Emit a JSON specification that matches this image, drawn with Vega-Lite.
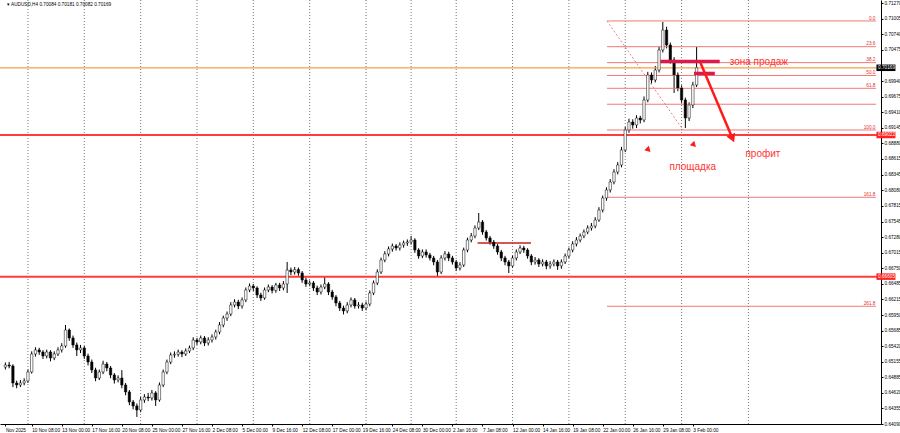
{
"$schema":"https://vega.github.io/schema/vega-lite/v6.json",
"width":881,"height":424,
"autosize":{"type":"none"},
"padding":{"left":0,"top":0,"right":19,"bottom":9},
"background":"#ffffff",
"config":{"view":{"stroke":null},"font":"Liberation Sans","axis":{"labelOverlap":false,"labelBound":false,"labelFlush":false,"grid":false,"labelFontSize":4.7,"labelPadding":1,"tickSize":2,"domainColor":"#000000","tickColor":"#000000","labelColor":"#000000"}},
"resolve":{"axis":{"x":"independent","y":"independent"}},
"datasets":{
"candles":[
{"t":0,"o":0.6506,"h":0.6514,"l":0.6502,"c":0.65097},
{"t":2,"o":0.65097,"h":0.6515,"l":0.6504,"c":0.6508},
{"t":4,"o":0.6508,"h":0.6511,"l":0.6472,"c":0.6479},
{"t":6,"o":0.6479,"h":0.6483,"l":0.647,"c":0.64756},
{"t":8,"o":0.64756,"h":0.6484,"l":0.6472,"c":0.6479},
{"t":10,"o":0.6479,"h":0.6487,"l":0.6475,"c":0.64824},
{"t":12,"o":0.64824,"h":0.6502,"l":0.6479,"c":0.64978},
{"t":14,"o":0.64978,"h":0.6533,"l":0.6495,"c":0.65285},
{"t":16,"o":0.65285,"h":0.654,"l":0.6524,"c":0.65354},
{"t":18,"o":0.65354,"h":0.6539,"l":0.6527,"c":0.65319},
{"t":20,"o":0.65319,"h":0.6535,"l":0.652,"c":0.65251},
{"t":22,"o":0.65251,"h":0.6536,"l":0.6521,"c":0.65319},
{"t":24,"o":0.65319,"h":0.6535,"l":0.6516,"c":0.65217},
{"t":26,"o":0.65217,"h":0.6533,"l":0.6518,"c":0.65285},
{"t":28,"o":0.65285,"h":0.654,"l":0.6525,"c":0.65354},
{"t":30,"o":0.65354,"h":0.6547,"l":0.6531,"c":0.65422},
{"t":32,"o":0.65422,"h":0.6578,"l":0.6539,"c":0.65695},
{"t":34,"o":0.65695,"h":0.6572,"l":0.6551,"c":0.65558},
{"t":36,"o":0.65558,"h":0.656,"l":0.6539,"c":0.65439},
{"t":38,"o":0.65439,"h":0.6548,"l":0.6525,"c":0.65354},
{"t":40,"o":0.65354,"h":0.6544,"l":0.653,"c":0.65388},
{"t":42,"o":0.65388,"h":0.6542,"l":0.652,"c":0.65251},
{"t":44,"o":0.65251,"h":0.6529,"l":0.6509,"c":0.65148},
{"t":46,"o":0.65148,"h":0.6519,"l":0.6496,"c":0.65012},
{"t":48,"o":0.65012,"h":0.6505,"l":0.6482,"c":0.64875},
{"t":50,"o":0.64875,"h":0.6502,"l":0.6484,"c":0.64978},
{"t":52,"o":0.64978,"h":0.6517,"l":0.6494,"c":0.65114},
{"t":54,"o":0.65114,"h":0.6515,"l":0.6499,"c":0.65046},
{"t":56,"o":0.65046,"h":0.6508,"l":0.6487,"c":0.64927},
{"t":58,"o":0.64927,"h":0.6496,"l":0.6478,"c":0.64841},
{"t":60,"o":0.64841,"h":0.6492,"l":0.648,"c":0.64875},
{"t":62,"o":0.64875,"h":0.6501,"l":0.647,"c":0.64756},
{"t":64,"o":0.64756,"h":0.6479,"l":0.6458,"c":0.64637},
{"t":66,"o":0.64637,"h":0.6467,"l":0.6441,"c":0.64466},
{"t":68,"o":0.64466,"h":0.645,"l":0.6434,"c":0.64398},
{"t":70,"o":0.64398,"h":0.6444,"l":0.6421,"c":0.64329},
{"t":72,"o":0.64329,"h":0.6455,"l":0.6429,"c":0.645},
{"t":74,"o":0.645,"h":0.646,"l":0.6445,"c":0.64551},
{"t":76,"o":0.64551,"h":0.6462,"l":0.6448,"c":0.64534},
{"t":78,"o":0.64534,"h":0.6467,"l":0.6449,"c":0.6462},
{"t":80,"o":0.6462,"h":0.6465,"l":0.64398,"c":0.645},
{"t":82,"o":0.645,"h":0.648,"l":0.6447,"c":0.64756},
{"t":84,"o":0.64756,"h":0.6502,"l":0.6472,"c":0.64978},
{"t":86,"o":0.64978,"h":0.6519,"l":0.6494,"c":0.65148},
{"t":88,"o":0.65148,"h":0.6531,"l":0.6511,"c":0.65268},
{"t":90,"o":0.65268,"h":0.6533,"l":0.6522,"c":0.6528},
{"t":92,"o":0.6528,"h":0.6536,"l":0.6524,"c":0.65319},
{"t":94,"o":0.65319,"h":0.6535,"l":0.6523,"c":0.65285},
{"t":96,"o":0.65285,"h":0.6538,"l":0.6525,"c":0.65336},
{"t":98,"o":0.65336,"h":0.6543,"l":0.653,"c":0.65388},
{"t":100,"o":0.65388,"h":0.6557,"l":0.6535,"c":0.65524},
{"t":102,"o":0.65524,"h":0.6556,"l":0.6544,"c":0.6549},
{"t":104,"o":0.6549,"h":0.656,"l":0.6545,"c":0.65558},
{"t":106,"o":0.65558,"h":0.6559,"l":0.6542,"c":0.65473},
{"t":108,"o":0.65473,"h":0.6557,"l":0.6543,"c":0.65524},
{"t":110,"o":0.65524,"h":0.6562,"l":0.6548,"c":0.65575},
{"t":112,"o":0.65575,"h":0.657,"l":0.6553,"c":0.6566},
{"t":114,"o":0.6566,"h":0.6583,"l":0.6562,"c":0.6578},
{"t":116,"o":0.6578,"h":0.6594,"l":0.6574,"c":0.65899},
{"t":118,"o":0.65899,"h":0.6601,"l":0.6585,"c":0.65967},
{"t":120,"o":0.65967,"h":0.6617,"l":0.6593,"c":0.66121},
{"t":122,"o":0.66121,"h":0.6622,"l":0.6608,"c":0.66172},
{"t":124,"o":0.66172,"h":0.6621,"l":0.6605,"c":0.66104},
{"t":126,"o":0.66104,"h":0.6625,"l":0.6606,"c":0.66207},
{"t":128,"o":0.66207,"h":0.6642,"l":0.6617,"c":0.66377},
{"t":130,"o":0.66377,"h":0.6649,"l":0.6634,"c":0.66445},
{"t":132,"o":0.66445,"h":0.6648,"l":0.6636,"c":0.66411},
{"t":134,"o":0.66411,"h":0.6644,"l":0.6624,"c":0.66292},
{"t":136,"o":0.66292,"h":0.6633,"l":0.6619,"c":0.66241},
{"t":138,"o":0.66241,"h":0.6642,"l":0.6621,"c":0.66377},
{"t":140,"o":0.66377,"h":0.6647,"l":0.6634,"c":0.66428},
{"t":142,"o":0.66428,"h":0.6646,"l":0.6632,"c":0.6637},
{"t":144,"o":0.6637,"h":0.665,"l":0.6633,"c":0.66462},
{"t":146,"o":0.66462,"h":0.665,"l":0.6636,"c":0.66411},
{"t":148,"o":0.66411,"h":0.6653,"l":0.6637,"c":0.6648},
{"t":150,"o":0.6648,"h":0.66855,"l":0.66326,"c":0.66718},
{"t":152,"o":0.66718,"h":0.6676,"l":0.6663,"c":0.66684},
{"t":154,"o":0.66684,"h":0.6677,"l":0.6664,"c":0.66725},
{"t":156,"o":0.66725,"h":0.6676,"l":0.6662,"c":0.66667},
{"t":158,"o":0.66667,"h":0.667,"l":0.665,"c":0.66548},
{"t":160,"o":0.66548,"h":0.6659,"l":0.6643,"c":0.6648},
{"t":162,"o":0.6648,"h":0.6654,"l":0.6644,"c":0.66497},
{"t":164,"o":0.66497,"h":0.6653,"l":0.6636,"c":0.66411},
{"t":166,"o":0.66411,"h":0.6645,"l":0.6629,"c":0.66343},
{"t":168,"o":0.66343,"h":0.6647,"l":0.663,"c":0.66428},
{"t":170,"o":0.66428,"h":0.666,"l":0.6639,"c":0.6648},
{"t":172,"o":0.6648,"h":0.6651,"l":0.6629,"c":0.66343},
{"t":174,"o":0.66343,"h":0.6638,"l":0.6621,"c":0.66258},
{"t":176,"o":0.66258,"h":0.6629,"l":0.661,"c":0.66155},
{"t":178,"o":0.66155,"h":0.6619,"l":0.6602,"c":0.6607},
{"t":180,"o":0.6607,"h":0.6611,"l":0.6596,"c":0.66019},
{"t":182,"o":0.66019,"h":0.6617,"l":0.6598,"c":0.66121},
{"t":184,"o":0.66121,"h":0.6625,"l":0.6608,"c":0.66207},
{"t":186,"o":0.66207,"h":0.6624,"l":0.6606,"c":0.66104},
{"t":188,"o":0.66104,"h":0.6617,"l":0.6606,"c":0.66121},
{"t":190,"o":0.66121,"h":0.6616,"l":0.6602,"c":0.6607},
{"t":192,"o":0.6607,"h":0.6618,"l":0.6603,"c":0.66138},
{"t":194,"o":0.66138,"h":0.6637,"l":0.661,"c":0.66326},
{"t":196,"o":0.66326,"h":0.6654,"l":0.6629,"c":0.66497},
{"t":198,"o":0.66497,"h":0.6673,"l":0.6646,"c":0.66684},
{"t":200,"o":0.66684,"h":0.6693,"l":0.6665,"c":0.66889},
{"t":202,"o":0.66889,"h":0.6704,"l":0.6685,"c":0.66992},
{"t":204,"o":0.66992,"h":0.6712,"l":0.6695,"c":0.67077},
{"t":206,"o":0.67077,"h":0.6717,"l":0.6703,"c":0.67128},
{"t":208,"o":0.67128,"h":0.6716,"l":0.6705,"c":0.67094},
{"t":210,"o":0.67094,"h":0.6719,"l":0.6705,"c":0.67145},
{"t":212,"o":0.67145,"h":0.6722,"l":0.671,"c":0.67179},
{"t":214,"o":0.67179,"h":0.6724,"l":0.6713,"c":0.67196},
{"t":216,"o":0.67196,"h":0.67299,"l":0.6715,"c":0.6723},
{"t":218,"o":0.6723,"h":0.6726,"l":0.6701,"c":0.6706},
{"t":220,"o":0.6706,"h":0.6709,"l":0.6691,"c":0.66957},
{"t":222,"o":0.66957,"h":0.6707,"l":0.6692,"c":0.67026},
{"t":224,"o":0.67026,"h":0.6707,"l":0.6693,"c":0.66975},
{"t":226,"o":0.66975,"h":0.6701,"l":0.6688,"c":0.66923},
{"t":228,"o":0.66923,"h":0.6696,"l":0.668,"c":0.66855},
{"t":230,"o":0.66855,"h":0.6689,"l":0.66616,"c":0.66684},
{"t":232,"o":0.66684,"h":0.6697,"l":0.6665,"c":0.66923},
{"t":234,"o":0.66923,"h":0.6704,"l":0.6688,"c":0.66992},
{"t":236,"o":0.66992,"h":0.6703,"l":0.6687,"c":0.66923},
{"t":238,"o":0.66923,"h":0.6696,"l":0.6681,"c":0.66855},
{"t":240,"o":0.66855,"h":0.6689,"l":0.667,"c":0.66752},
{"t":242,"o":0.66752,"h":0.6685,"l":0.6671,"c":0.66804},
{"t":244,"o":0.66804,"h":0.671,"l":0.6677,"c":0.6706},
{"t":246,"o":0.6706,"h":0.6727,"l":0.6702,"c":0.6723},
{"t":248,"o":0.6723,"h":0.6735,"l":0.6719,"c":0.67299},
{"t":250,"o":0.67299,"h":0.6748,"l":0.6726,"c":0.67435},
{"t":252,"o":0.67435,"h":0.67691,"l":0.674,"c":0.67538},
{"t":254,"o":0.67538,"h":0.6757,"l":0.6732,"c":0.67367},
{"t":256,"o":0.67367,"h":0.674,"l":0.6722,"c":0.67265},
{"t":258,"o":0.67265,"h":0.673,"l":0.6715,"c":0.67196},
{"t":260,"o":0.67196,"h":0.6723,"l":0.6708,"c":0.67128},
{"t":262,"o":0.67128,"h":0.6716,"l":0.6698,"c":0.67026},
{"t":264,"o":0.67026,"h":0.6706,"l":0.6687,"c":0.66923},
{"t":266,"o":0.66923,"h":0.6696,"l":0.668,"c":0.66855},
{"t":268,"o":0.66855,"h":0.6689,"l":0.66667,"c":0.66787},
{"t":270,"o":0.66787,"h":0.6697,"l":0.6675,"c":0.66923},
{"t":272,"o":0.66923,"h":0.6707,"l":0.6688,"c":0.67026},
{"t":274,"o":0.67026,"h":0.6714,"l":0.6699,"c":0.67094},
{"t":276,"o":0.67094,"h":0.6713,"l":0.6701,"c":0.6706},
{"t":278,"o":0.6706,"h":0.6709,"l":0.6691,"c":0.66957},
{"t":280,"o":0.66957,"h":0.6699,"l":0.668,"c":0.66855},
{"t":282,"o":0.66855,"h":0.6694,"l":0.6681,"c":0.66889},
{"t":284,"o":0.66889,"h":0.6692,"l":0.6677,"c":0.66821},
{"t":286,"o":0.66821,"h":0.669,"l":0.6678,"c":0.66855},
{"t":288,"o":0.66855,"h":0.6689,"l":0.6673,"c":0.66787},
{"t":290,"o":0.66787,"h":0.6687,"l":0.6674,"c":0.66821},
{"t":292,"o":0.66821,"h":0.669,"l":0.6678,"c":0.66855},
{"t":294,"o":0.66855,"h":0.6689,"l":0.6672,"c":0.66787},
{"t":296,"o":0.66787,"h":0.669,"l":0.6674,"c":0.66855},
{"t":298,"o":0.66855,"h":0.67,"l":0.6682,"c":0.66957},
{"t":300,"o":0.66957,"h":0.671,"l":0.6692,"c":0.6706},
{"t":302,"o":0.6706,"h":0.6721,"l":0.6702,"c":0.67162},
{"t":304,"o":0.67162,"h":0.6728,"l":0.6712,"c":0.6723},
{"t":306,"o":0.6723,"h":0.6734,"l":0.6719,"c":0.67299},
{"t":308,"o":0.67299,"h":0.6741,"l":0.6726,"c":0.67367},
{"t":310,"o":0.67367,"h":0.6748,"l":0.6733,"c":0.67435},
{"t":312,"o":0.67435,"h":0.6752,"l":0.6739,"c":0.67469},
{"t":314,"o":0.67469,"h":0.6762,"l":0.6743,"c":0.67572},
{"t":316,"o":0.67572,"h":0.6779,"l":0.6754,"c":0.67742},
{"t":318,"o":0.67742,"h":0.6799,"l":0.677,"c":0.67947},
{"t":320,"o":0.67947,"h":0.6813,"l":0.679,"c":0.68084},
{"t":322,"o":0.68084,"h":0.6827,"l":0.6804,"c":0.6822},
{"t":324,"o":0.6822,"h":0.6844,"l":0.6818,"c":0.68391},
{"t":326,"o":0.68391,"h":0.6856,"l":0.6835,"c":0.6851},
{"t":328,"o":0.6851,"h":0.6882,"l":0.6847,"c":0.68766},
{"t":330,"o":0.68766,"h":0.6916,"l":0.6873,"c":0.69108},
{"t":332,"o":0.69108,"h":0.693,"l":0.6906,"c":0.69244},
{"t":334,"o":0.69244,"h":0.6929,"l":0.6913,"c":0.69193},
{"t":336,"o":0.69193,"h":0.6936,"l":0.6914,"c":0.69312},
{"t":338,"o":0.69312,"h":0.6935,"l":0.6922,"c":0.69278},
{"t":340,"o":0.69278,"h":0.6968,"l":0.6924,"c":0.6962},
{"t":342,"o":0.6962,"h":0.701,"l":0.6958,"c":0.70046},
{"t":344,"o":0.70046,"h":0.7009,"l":0.699,"c":0.69961},
{"t":346,"o":0.69961,"h":0.702,"l":0.6992,"c":0.70131},
{"t":348,"o":0.70131,"h":0.7053,"l":0.7009,"c":0.70473},
{"t":350,"o":0.70473,"h":0.70951,"l":0.7043,"c":0.70814},
{"t":352,"o":0.70814,"h":0.7087,"l":0.705,"c":0.70558},
{"t":354,"o":0.70558,"h":0.706,"l":0.7024,"c":0.70302},
{"t":356,"o":0.70302,"h":0.7035,"l":0.69739,"c":0.70046},
{"t":358,"o":0.70046,"h":0.7009,"l":0.6977,"c":0.69824},
{"t":360,"o":0.69824,"h":0.6987,"l":0.6956,"c":0.6962},
{"t":362,"o":0.6962,"h":0.6966,"l":0.69142,"c":0.69312},
{"t":364,"o":0.69312,"h":0.6958,"l":0.6926,"c":0.69534},
{"t":366,"o":0.69534,"h":0.6993,"l":0.6948,"c":0.69876},
{"t":368,"o":0.69876,"h":0.70524,"l":0.6984,"c":0.70169}
],
"weeks":[{"t":12},{"t":42},{"t":72},{"t":102},{"t":132},{"t":162},{"t":192},{"t":216},{"t":240},{"t":270},{"t":300},{"t":330},{"t":360},{"t":395.6}],
"fib":[{"p":0.70968,"lab":"0.0"},{"p":0.70529,"lab":"23.6"},{"p":0.70257,"lab":"38.2"},{"p":0.70038,"lab":"50.0"},{"p":0.69819,"lab":"61.8"},{"p":0.69547,"lab":""},{"p":0.69108,"lab":"100.0"},{"p":0.67959,"lab":"161.8"},{"p":0.66099,"lab":"261.8"}],
"levels":[{"p":0.69022,"txt":"0.69022"},{"p":0.66605,"txt":"0.66605"}],
"current":[{"p":0.70169,"txt":"0.70169"}],
"zones":[{"t0":348.7,"t1":380.3,"p":0.70277},{"t0":366.6,"t1":377.7,"p":0.70072}],
"seg":[{"t0":251.4,"t1":279.8,"p":0.67179}],
"diag":[{"t0":320.3,"p0":0.70968,"t1":360.8,"p1":0.69108}],
"arrow":[{"t0":369.8,"p0":0.70273,"t1":386.8,"p1":0.68988}],
"head":[{"t":387.1,"p":0.68964}],
"marks":[{"t":342.4,"p":0.68766},{"t":366.6,"p":0.68852}],
"notes":[{"t":385.6,"p":0.70268,"txt":"зона продаж"},{"t":394.0,"p":0.68698,"txt":"профит"},{"t":353.5,"p":0.68468,"txt":"площадка"}],
"title":[{"t":0.84,"p":0.71241,"txt":"▾ AUDUSD,H4  0.70084 0.70181 0.70082 0.70169"}]
},
"layer":[
{"data":{"name":"candles"},"mark":{"type":"rule","color":"#000000","strokeWidth":1},
 "encoding":{"x":{"field":"t","type":"quantitative","title":null,"scale":{"domain":[-0.21,463.5],"nice":false,"zero":false},
   "axis":{"title":null,"values":[0,14,30,46,62,78,94,110,126,142,158,174,190,206,222,238,254,270,286,302,318,334,350,366],
   "labelExpr":"datum.value < 14 ? 'Nov 2025' : ['10 Nov 08:00','13 Nov 00:00','17 Nov 16:00','20 Nov 08:00','25 Nov 00:00','27 Nov 16:00','2 Dec 08:00','5 Dec 00:00','9 Dec 16:00','12 Dec 08:00','17 Dec 00:00','19 Dec 16:00','24 Dec 08:00','30 Dec 00:00','2 Jan 16:00','7 Jan 08:00','12 Jan 00:00','14 Jan 16:00','19 Jan 08:00','22 Jan 00:00','26 Jan 16:00','29 Jan 08:00','3 Feb 00:00'][(datum.value-14)/16]",
   "labelAlign":"left","labelBaseline":"top","labelOverlap":false,"labelBound":false,"labelFlush":false}},
 "y":{"field":"l","type":"quantitative","title":null,"scale":{"domain":[0.6409,0.71326],"nice":false,"zero":false},
   "axis":{"title":null,"orient":"right","values":[0.7127,0.71005,0.7074,0.70475,0.6994,0.69675,0.6941,0.69145,0.6888,0.68615,0.68345,0.6808,0.67815,0.67545,0.6728,0.67015,0.6675,0.66485,0.66215,0.6595,0.65685,0.6542,0.65155,0.64885,0.6462,0.64355,0.6409],
   "format":".5f","labelOverlap":false,"labelBound":false,"labelFlush":false,"labelBaseline":"middle"}},
 "y2":{"field":"h"}}},
{"data":{"name":"weeks"},"mark":{"type":"rule","strokeDash":[1,2],"color":"#555555","strokeWidth":0.8},
 "encoding":{"x":{"field":"t","type":"quantitative","axis":null,"scale":{"domain":[-0.21,463.5],"nice":false,"zero":false}}}},
{"data":{"name":"fib"},"mark":{"type":"rule","color":"#f07878","strokeWidth":1},
 "encoding":{"x":{"datum":320.3,"type":"quantitative","axis":null,"scale":{"domain":[-0.21,463.5],"nice":false,"zero":false}},"x2":{"datum":463.5},
 "y":{"field":"p","type":"quantitative","axis":null,"scale":{"domain":[0.6409,0.71326],"nice":false,"zero":false}}}},
{"data":{"name":"fib"},"mark":{"type":"text","align":"right","baseline":"bottom","dy":-0.3,"fontSize":4.7,"color":"#e03030"},
 "encoding":{"x":{"datum":463.2,"type":"quantitative","axis":null,"scale":{"domain":[-0.21,463.5],"nice":false,"zero":false}},
 "y":{"field":"p","type":"quantitative","axis":null,"scale":{"domain":[0.6409,0.71326],"nice":false,"zero":false}},"text":{"field":"lab"}}},
{"data":{"name":"diag"},"mark":{"type":"rule","strokeDash":[2,2],"color":"#f08080","strokeWidth":1},
 "encoding":{"x":{"field":"t0","type":"quantitative","axis":null,"scale":{"domain":[-0.21,463.5],"nice":false,"zero":false}},"x2":{"field":"t1"},
 "y":{"field":"p0","type":"quantitative","axis":null,"scale":{"domain":[0.6409,0.71326],"nice":false,"zero":false}},"y2":{"field":"p1"}}},
{"data":{"name":"levels"},"mark":{"type":"rule","color":"#ff3b3b","strokeWidth":2},
 "encoding":{"y":{"field":"p","type":"quantitative","axis":null,"scale":{"domain":[0.6409,0.71326],"nice":false,"zero":false}}}},
{"data":{"name":"current"},"mark":{"type":"rule","color":"#f5a04a","strokeWidth":1.2},
 "encoding":{"y":{"field":"p","type":"quantitative","axis":null,"scale":{"domain":[0.6409,0.71326],"nice":false,"zero":false}}}},
{"data":{"name":"seg"},"mark":{"type":"rule","color":"#c81e1e","strokeWidth":1.5},
 "encoding":{"x":{"field":"t0","type":"quantitative","axis":null,"scale":{"domain":[-0.21,463.5],"nice":false,"zero":false}},"x2":{"field":"t1"},
 "y":{"field":"p","type":"quantitative","axis":null,"scale":{"domain":[0.6409,0.71326],"nice":false,"zero":false}}}},
{"data":{"name":"candles"},"mark":{"type":"bar","width":2.4,"stroke":"#000000","strokeWidth":0.5},
 "encoding":{"x":{"field":"t","type":"quantitative","axis":null,"scale":{"domain":[-0.21,463.5],"nice":false,"zero":false}},
 "y":{"field":"o","type":"quantitative","axis":null,"scale":{"domain":[0.6409,0.71326],"nice":false,"zero":false}},"y2":{"field":"c"},
 "fill":{"condition":{"test":"datum.c < datum.o","value":"#000000"},"value":"#ffffff"}}},
{"data":{"name":"zones"},"mark":{"type":"rule","color":"#d81b4a","strokeWidth":3.5},
 "encoding":{"x":{"field":"t0","type":"quantitative","axis":null,"scale":{"domain":[-0.21,463.5],"nice":false,"zero":false}},"x2":{"field":"t1"},
 "y":{"field":"p","type":"quantitative","axis":null,"scale":{"domain":[0.6409,0.71326],"nice":false,"zero":false}}}},
{"data":{"name":"arrow"},"mark":{"type":"rule","color":"#ff1a1a","strokeWidth":2.5},
 "encoding":{"x":{"field":"t0","type":"quantitative","axis":null,"scale":{"domain":[-0.21,463.5],"nice":false,"zero":false}},"x2":{"field":"t1"},
 "y":{"field":"p0","type":"quantitative","axis":null,"scale":{"domain":[0.6409,0.71326],"nice":false,"zero":false}},"y2":{"field":"p1"}}},
{"data":{"name":"head"},"mark":{"type":"point","shape":"triangle-down","filled":true,"color":"#ff1a1a","size":90,"angle":336,"opacity":1},
 "encoding":{"x":{"field":"t","type":"quantitative","axis":null,"scale":{"domain":[-0.21,463.5],"nice":false,"zero":false}},
 "y":{"field":"p","type":"quantitative","axis":null,"scale":{"domain":[0.6409,0.71326],"nice":false,"zero":false}}}},
{"data":{"name":"marks"},"mark":{"type":"point","shape":"triangle-up","filled":true,"color":"#ff1a1a","size":40,"angle":135,"opacity":1},
 "encoding":{"x":{"field":"t","type":"quantitative","axis":null,"scale":{"domain":[-0.21,463.5],"nice":false,"zero":false}},
 "y":{"field":"p","type":"quantitative","axis":null,"scale":{"domain":[0.6409,0.71326],"nice":false,"zero":false}}}},
{"data":{"name":"notes"},"mark":{"type":"text","align":"left","baseline":"middle","fontSize":10,"color":"#ff3333","font":"Liberation Sans"},
 "encoding":{"x":{"field":"t","type":"quantitative","axis":null,"scale":{"domain":[-0.21,463.5],"nice":false,"zero":false}},
 "y":{"field":"p","type":"quantitative","axis":null,"scale":{"domain":[0.6409,0.71326],"nice":false,"zero":false}},"text":{"field":"txt"}}},
{"data":{"name":"title"},"mark":{"type":"text","align":"left","baseline":"middle","fontSize":4.7,"color":"#000000"},
 "encoding":{"x":{"field":"t","type":"quantitative","axis":null,"scale":{"domain":[-0.21,463.5],"nice":false,"zero":false}},
 "y":{"field":"p","type":"quantitative","axis":null,"scale":{"domain":[0.6409,0.71326],"nice":false,"zero":false}},"text":{"field":"txt"}}},
{"data":{"name":"current"},"mark":{"type":"tick","orient":"horizontal","color":"#000000","size":19,"thickness":6.5,"opacity":1},
 "encoding":{"x":{"datum":468.8,"type":"quantitative","axis":null,"scale":{"domain":[-0.21,463.5],"nice":false,"zero":false}},
 "y":{"field":"p","type":"quantitative","axis":null,"scale":{"domain":[0.6409,0.71326],"nice":false,"zero":false}}}},
{"data":{"name":"levels"},"mark":{"type":"tick","orient":"horizontal","color":"#ff2020","size":19,"thickness":6.5,"opacity":1},
 "encoding":{"x":{"datum":468.8,"type":"quantitative","axis":null,"scale":{"domain":[-0.21,463.5],"nice":false,"zero":false}},
 "y":{"field":"p","type":"quantitative","axis":null,"scale":{"domain":[0.6409,0.71326],"nice":false,"zero":false}}}},
{"data":{"name":"current"},"mark":{"type":"text","align":"left","baseline":"middle","fontSize":4.7,"color":"#ffffff"},
 "encoding":{"x":{"datum":464.6,"type":"quantitative","axis":null,"scale":{"domain":[-0.21,463.5],"nice":false,"zero":false}},
 "y":{"field":"p","type":"quantitative","axis":null,"scale":{"domain":[0.6409,0.71326],"nice":false,"zero":false}},"text":{"field":"txt"}}},
{"data":{"name":"levels"},"mark":{"type":"text","align":"left","baseline":"middle","fontSize":4.7,"color":"#ffffff"},
 "encoding":{"x":{"datum":464.6,"type":"quantitative","axis":null,"scale":{"domain":[-0.21,463.5],"nice":false,"zero":false}},
 "y":{"field":"p","type":"quantitative","axis":null,"scale":{"domain":[0.6409,0.71326],"nice":false,"zero":false}},"text":{"field":"txt"}}}
]
}
